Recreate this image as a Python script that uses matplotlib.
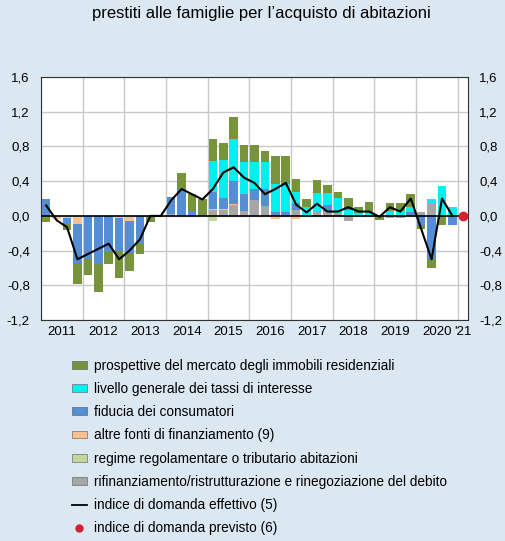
import numpy as np
import matplotlib.pyplot as plt
from matplotlib.patches import Patch
from matplotlib.lines import Line2D

plt.rcParams['font.family'] = ['Liberation Sans', 'DejaVu Sans']

# trimestri dal 2011T1 al 2020T4
year_labels = ['2011', '2012', '2013', '2014', '2015', '2016', '2017', '2018', '2019', '2020', "'21"]

prospettive = [-0.07, 0, -0.07, -0.24, -0.18, -0.32, -0.14, -0.32,
               -0.20, -0.12, -0.07, 0, 0, 0.19, 0.19, 0.19,
               0.26, 0.20, 0.25, 0.20, 0.20, 0.13, 0.32, 0.32,
               0.16, 0.09, 0.15, 0.10, 0.06, 0.14, 0.07, 0.11,
               -0.05, 0.09, 0.09, 0.15, -0.05, -0.10, -0.10, 0]
tassi = [0, 0, 0, 0, 0, 0, 0, 0,
         0, 0, 0, 0, 0, 0, 0, 0,
         0.36, 0.43, 0.49, 0.37, 0.31, 0.31, 0.32, 0.32,
         0.12, 0.10, 0.21, 0.14, 0.18, 0.07, 0.03, 0.05,
         0, 0.06, 0.06, 0.05, 0, 0.06, 0.35, 0.10]
fiducia = [0.19, 0, -0.07, -0.45, -0.50, -0.56, -0.42, -0.38,
           -0.37, -0.32, 0, 0, 0.20, 0.31, 0.06, 0,
           0.19, 0.13, 0.26, 0.19, 0.13, 0.20, 0.05, 0.05,
           0.08, 0, 0, 0.07, 0, 0, 0, 0,
           0, 0, 0, 0.05, -0.10, -0.50, 0, -0.11]
altre_fonti = [0, -0.03, -0.02, -0.09, 0, 0, 0, -0.02,
               -0.06, 0, 0, 0, 0, 0, 0, 0,
               0.01, 0.01, 0.02, 0, 0, 0, -0.03, 0,
               -0.03, 0, 0, 0, 0, 0, 0, 0,
               0, 0, 0, 0, 0, 0, 0, 0]
regime = [0, 0, 0, 0, 0, 0, 0, 0,
          0, 0, 0, 0, 0, 0, 0, 0,
          -0.06, 0, 0, 0, 0, 0, 0, 0,
          0, 0, 0, 0, 0, 0, 0, 0,
          0, 0, 0, 0, 0, 0, 0, 0]
rifinanziamento = [0, 0, 0, 0, 0, 0, 0, 0,
                   0, 0, 0, 0, 0.02, 0, 0, 0,
                   0.07, 0.07, 0.12, 0.06, 0.18, 0.11, 0, 0,
                   0.07, 0, 0.05, 0.05, 0.03, -0.06, 0, 0,
                   0, -0.02, -0.02, 0, 0.05, 0.14, 0, 0]
indice_effettivo = [0.12, -0.05, -0.13, -0.50, -0.44, -0.38, -0.32, -0.50,
                    -0.40, -0.27, 0, 0, 0.18, 0.31, 0.25, 0.19,
                    0.31, 0.50, 0.56, 0.44, 0.38, 0.25, 0.31, 0.38,
                    0.13, 0.04, 0.14, 0.05, 0.05, 0.10, 0.05, 0.05,
                    -0.01, 0.10, 0.05, 0.20, -0.15, -0.50, 0.20, 0.0]
indice_previsto = 0.0  # 2021T1

series = [
    (rifinanziamento, '#a6a6a6', 'rifinanziamento/ristrutturazione e rinegoziazione del debito'),
    (regime, '#c3d69b', 'regime regolamentare o tributario abitazioni'),
    (altre_fonti, '#fac090', 'altre fonti di finanziamento (9)'),
    (fiducia, '#558ed5', 'fiducia dei consumatori'),
    (tassi, '#00f0f0', 'livello generale dei tassi di interesse'),
    (prospettive, '#77933c', 'prospettive del mercato degli immobili residenziali'),
]

bg = '#dce8f1'
fig = plt.figure(figsize=(5.06, 5.41), dpi=100, facecolor=bg)
ax = fig.add_axes([0.081, 0.4085, 0.844, 0.449])
ax.set_facecolor('white')

x = np.arange(len(indice_effettivo))
pos_base = np.zeros(len(x))
neg_base = np.zeros(len(x))
for vals, col, lab in series:
    v = np.array(vals, dtype=float)
    p = np.where(v > 0, v, 0)
    n = np.where(v < 0, v, 0)
    ax.bar(x, p, 0.82, bottom=pos_base, color=col, linewidth=0, zorder=3)
    ax.bar(x, n, 0.82, bottom=neg_base, color=col, linewidth=0, zorder=3)
    pos_base += p
    neg_base += n

ax.plot(x, indice_effettivo, color='black', lw=1.5, zorder=5)
ax.plot([len(x)], [indice_previsto], 'o', color='#d42030', ms=6, zorder=6, clip_on=False)
ax.axhline(0, color='black', lw=1.2, zorder=4)

ax.set_xlim(-0.5, 40.5)
ax.set_ylim(-1.2, 1.6)
yt = np.arange(-1.2, 1.61, 0.4)
ax.set_yticks(yt)
ax.set_yticklabels([f'{v:.1f}'.replace('.', ',').replace('-0,0', '0,0') for v in yt])
ax.tick_params(axis='y', length=0, labelsize=9.5, pad=8, right=True, labelright=True)
ax.yaxis.grid(True, color='#c8c8c8', lw=1, zorder=0)

ax.set_xticks(np.arange(-0.5, 40, 4), minor=True)
ax.xaxis.grid(True, which='minor', color='#c8c8c8', lw=1, zorder=0)
ax.set_xticks(list(np.arange(1.5, 40, 4)) + [40])
ax.set_xticklabels(year_labels)
ax.tick_params(axis='x', which='both', length=0, labelsize=9.5, pad=4)
for s in ax.spines.values():
    s.set_color('#333333')
    s.set_linewidth(0.8)

fig.text(0.516, 0.975, 'prestiti alle famiglie per l\u2019acquisto di abitazioni',
         ha='center', va='center', fontsize=12)

handles = [Patch(facecolor=col, edgecolor='#555555', linewidth=0.4, label=lab)
           for vals, col, lab in reversed(series)]
handles.append(Line2D([], [], color='black', lw=1.3, label='indice di domanda effettivo (5)'))
handles.append(Line2D([], [], color='#d42030', marker='o', ms=5, lw=0,
                      label='indice di domanda previsto (6)'))
fig.legend(handles=handles, loc='upper left', bbox_to_anchor=(0.142, 0.337),
           frameon=False, fontsize=9.8, handlelength=1.1, handleheight=0.5,
           handletextpad=0.5, labelspacing=0.68, borderpad=0, borderaxespad=0)

fig.savefig('out.png', dpi=100, facecolor=bg)
